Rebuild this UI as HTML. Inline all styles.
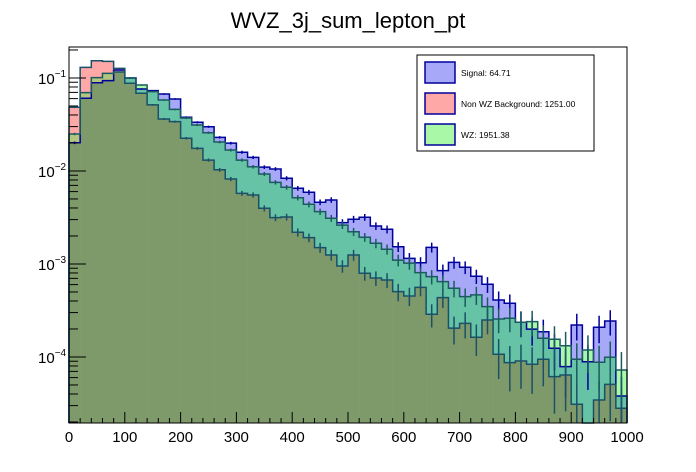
<!DOCTYPE html>
<html><head><meta charset="utf-8"><style>
body{margin:0;background:#fff;}
svg{display:block;font-family:"Liberation Sans",Arial,sans-serif;}
</style></head><body>
<svg id="chart" width="696" height="472">
<text x="348" y="28" text-anchor="middle" font-size="22">WVZ_3j_sum_lepton_pt</text>
<g id="plot"></g>
<g id="axes"></g>
<g>
<rect x="417" y="55" width="177" height="96" fill="#fff" stroke="#000" stroke-width="1"/>
<g><rect x="425" y="62" width="30" height="21" fill="#a8a8f8" stroke="#00009a" stroke-width="1.5"/><text x="461" y="76" font-size="8.5">Signal: 64.71</text></g>
<g><rect x="425" y="93" width="30" height="21" fill="#ffa8a8" stroke="#00009a" stroke-width="1.5"/><text x="461" y="107" font-size="8.5">Non WZ Background: 1251.00</text></g>
<g><rect x="425" y="124" width="30" height="21" fill="#a8f8a8" stroke="#00009a" stroke-width="1.5"/><text x="461" y="138" font-size="8.5">WZ: 1951.38</text></g>
</g>
</svg>
<script>
const binEdges0 = 0, binWidth = 20;
const signalVals = [0.0201,0.0605,0.0889,0.0936,0.122,0.100,0.0762,0.0730,0.0673,0.0594,0.0378,0.0334,0.0299,0.0230,0.0199,0.0159,0.0140,0.0110,0.0105,0.00835,0.00652,0.00590,0.00461,0.00488,0.00278,0.00303,0.00318,0.00256,0.00236,0.00153,0.00115,0.00103,0.00151,0.000847,0.00104,0.000922,0.000738,0.000605,0.000410,0.000378,0.000236,0.000199,0.000187,0.000124,0.0000787,0.000221,0.0000889,0.000209,0.000244,0.0000381];
const nonWZVals = [0.0484,0.130,0.153,0.151,0.127,0.0877,0.0684,0.0513,0.0362,0.0339,0.0225,0.0175,0.0131,0.0103,0.0082,0.00575,0.00552,0.00397,0.00315,0.00320,0.00219,0.00192,0.00150,0.00125,0.00095,0.00125,0.000794,0.000706,0.000673,0.000504,0.000453,0.000561,0.000288,0.000434,0.000204,0.000230,0.000163,0.000250,0.000107,0.0000869,0.0000906,0.0000835,0.0000944,0.0000614,0.0000640,0.0000310,0,0.0000345,0.0000508,0.0000281];
const wzVals = [0.0250,0.0695,0.101,0.112,0.116,0.100,0.0841,0.0713,0.0580,0.0460,0.0371,0.0312,0.0258,0.0205,0.0168,0.0131,0.0111,0.00929,0.00755,0.00668,0.00516,0.00438,0.00365,0.00310,0.00262,0.00222,0.00194,0.00167,0.00144,0.00110,0.00102,0.000806,0.000730,0.000645,0.000548,0.000445,0.000465,0.000348,0.000256,0.000261,0.000236,0.000240,0.000159,0.000155,0.000132,0.0000944,0.000119,0.0000877,0.0000993,0.0000725];
const xTickLabels = ["0","100","200","300","400","500","600","700","800","900","1000"];
const yDecades = [-4,-3,-2,-1];

const X0=69,X1=627,Y0=47,Y1=423;
const xMin=0,xMax=1000,logMax=-0.667,logMin=-4.71;
const NS='http://www.w3.org/2000/svg';
function xs(v){return X0+(v-xMin)/(xMax-xMin)*(X1-X0);}
function ys(v){if(v<=0)return Y1;const l=Math.log10(v);const y=Y0+(logMax-l)/(logMax-logMin)*(Y1-Y0);return Math.min(Y1,Math.max(Y0,y));}
function mk(tag,attrs,parent){const e=document.createElementNS(NS,tag);for(const k in attrs)e.setAttribute(k,attrs[k]);parent.appendChild(e);return e;}
const plot=document.getElementById('plot'),axes=document.getElementById('axes');
const colors={'SRG':'#7f9a6a','SG':'#66c3a6','RG':'#b2c67e','SR':'#c49ad0','S':'#a8a8f8','R':'#ffa8a8','G':'#a8f8a8'};
const series=[{k:'S',v:signalVals,line:'#00009a',name:'signal'},{k:'R',v:nonWZVals,line:'#1a5068',name:'nonwz'},{k:'G',v:wzVals,line:'#1a5a60',name:'wz'}];
const n=signalVals.length;
for(let i=0;i<n;i++){
  const xa=xs(binEdges0+i*binWidth),xb=xs(binEdges0+(i+1)*binWidth);
  const arr=series.map(s=>({k:s.k,v:s.v[i]})).sort((a,b)=>a.v-b.v);
  let prev=Y1;
  for(let j=0;j<3;j++){
    const top=ys(arr[j].v);
    const set=arr.slice(j).map(a=>a.k).sort((a,b)=>'SRG'.indexOf(a)-'SRG'.indexOf(b)).join('');
    if(prev-top>0){
      const r=mk('rect',{x:xa,y:top,width:xb-xa+0.3,height:prev-top,fill:colors[set]},plot);
      
      
    }
    prev=Math.min(prev,top);
  }
}
series.forEach(s=>{
  let d='M'+X0+','+Y1;
  for(let i=0;i<n;i++){const xa=xs(i*binWidth),xb=xs((i+1)*binWidth),y=ys(s.v[i]);d+=' L'+xa+','+y+' L'+xb+','+y;}
  d+=' L'+X1+','+Y1;
  const p=mk('path',{d:d,fill:'none',stroke:s.line,'stroke-width':1.5},plot);
  
  
  for(let i=0;i<n;i++){
    const v=s.v[i];if(v<=0)continue;
    const rel=Math.min(0.6,0.015*Math.sqrt(0.1/v));
    const xc=xs((i+0.5)*binWidth);
    const e=mk('line',{x1:xc,x2:xc,y1:ys(v*(1+rel)),y2:ys(v*(1-rel)),stroke:s.line,'stroke-width':1.5},plot);
    
    
  }
});
const frame=mk('rect',{x:X0,y:Y0,width:X1-X0,height:Y1-Y0,fill:'none',stroke:'#000','stroke-width':1},axes);


for(let v=0;v<=1000;v+=20){
  const major=v%100===0;
  const x=xs(v);
  const t=mk('line',{x1:x,x2:x,y1:Y1,y2:Y1-(major?11:5),stroke:'#000','stroke-width':1},axes);
  
  
}
xTickLabels.forEach((lab,i)=>{
  const t=mk('text',{x:xs(+lab),y:442,'text-anchor':'middle','font-size':15},axes);
  t.textContent=lab;
  
  
});
for(let d=-5;d<=-1;d++){
  for(let m=1;m<10;m++){
    const v=m*Math.pow(10,d);const l=Math.log10(v);
    if(l<logMin||l>logMax)continue;
    const y=ys(v);
    const t=mk('line',{x1:X0,x2:X0+(m===1?17:9),y1:y,y2:y,stroke:'#000','stroke-width':1},axes);
    
    
  }
}
yDecades.forEach(d=>{
  const y=ys(Math.pow(10,d));
  const t=mk('text',{x:38,y:y+6,'font-size':15},axes);
  
  
  t.textContent='10';
  const s=mk('tspan',{dy:-7,'font-size':10},t);
  s.textContent=String(d).replace('-','\u2212');
});
</script>
</body></html>
